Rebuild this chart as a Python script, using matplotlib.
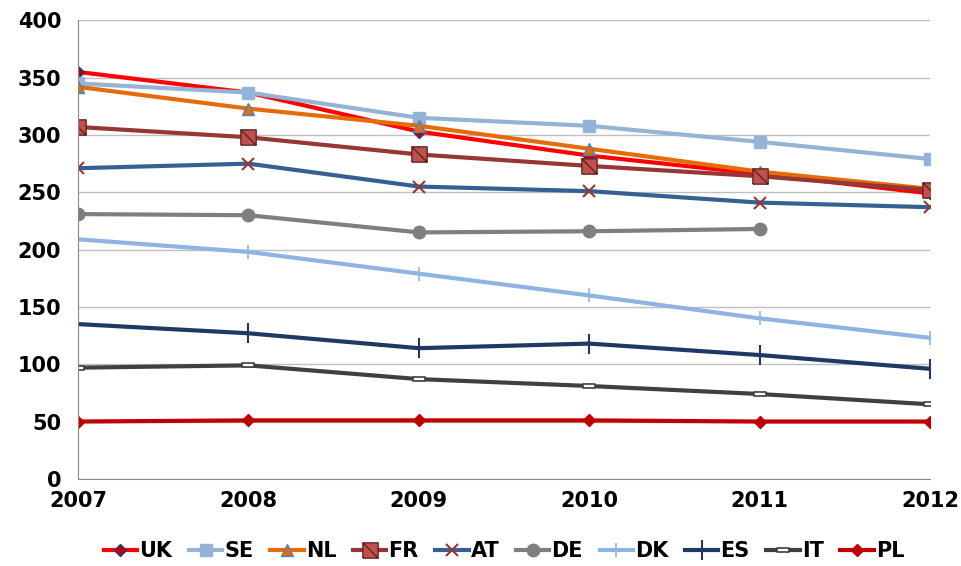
import matplotlib.pyplot as plt
from matplotlib.path import Path

years = [2007, 2008, 2009, 2010, 2011, 2012]
uk = [355, 337, 303, 282, 266, 249]
se = [345, 337, 315, 308, 294, 279]
nl = [342, 323, 308, 288, 268, 253]
fr = [307, 298, 283, 273, 264, 252]
at = [271, 275, 255, 251, 241, 237]
de = [231, 230, 215, 216, 218]
dk = [209, 198, 179, 160, 140, 123]
es = [135, 127, 114, 118, 108, 96]
it = [97, 99, 87, 81, 74, 65]
pl = [50, 51, 51, 51, 50, 50]

boxx = Path([(-1, -1), (1, -1), (1, 1), (-1, 1), (-1, -1), (1, 1), (-1, 1), (1, -1)],
            [1, 2, 2, 2, 2, 1, 1, 2])
flat = Path([(-1, -0.3), (1, -0.3), (1, 0.3), (-1, 0.3), (-1, -0.3)], [1, 2, 2, 2, 79])

series = [
    ("UK", uk, "#FF0000", dict(marker="D", ms=6, mfc="#C00000", mec="#1F3C88")),
    ("SE", se, "#95B3D7", dict(marker="s", ms=9)),
    ("NL", nl, "#E46C0A", dict(marker="^", ms=9, mfc="#E46C0A", mec="#4F81BD")),
    ("FR", fr, "#953735", dict(marker=boxx, ms=11, mfc="#C0504D", mec="#632523")),
    ("AT", at, "#376092", dict(marker="x", ms=9, mec="#953735", mew=1.5)),
    ("DE", de, "#7F7F7F", dict(marker="o", ms=9)),
    ("DK", dk, "#8EB4E3", dict(marker="+", ms=10, mew=1.2)),
    ("ES", es, "#1F3864", dict(marker="+", ms=14, mew=1.5)),
    ("IT", it, "#404040", dict(marker=flat, ms=9, mew=1.2, mfc="white", mec="#404040")),
    ("PL", pl, "#C00000", dict(marker="D", ms=6)),
]

fig = plt.figure(figsize=(9.62, 5.66), dpi=100)
ax = fig.add_axes([0.081, 0.154, 0.886, 0.81])
for name, vals, col, kw in series:
    ax.plot(years[:len(vals)], vals, color=col, lw=3, label=name, **kw)

ax.set_xlim(2007, 2012)
ax.set_ylim(0, 400)
ax.set_yticks(range(0, 401, 50))
ax.set_xticks(years)
ax.grid(axis="y", color="#BFBFBF", lw=1)
ax.set_axisbelow(True)
for s in ["top", "right"]:
    ax.spines[s].set_visible(False)
ax.spines["left"].set_color("#888888")
ax.spines["bottom"].set_color("#888888")
ax.tick_params(labelsize=15, length=0)
ax.tick_params(axis="x", pad=9)
ax.tick_params(axis="y", pad=12)
for lab in ax.get_xticklabels() + ax.get_yticklabels():
    lab.set_fontweight("bold")

ax.legend(loc="upper center", bbox_to_anchor=(0.5, -0.095), ncol=10, frameon=False,
          prop={"weight": "bold", "size": 15}, handlelength=1.6, columnspacing=0.8,
          handletextpad=0.1)
fig.savefig("out.png")
